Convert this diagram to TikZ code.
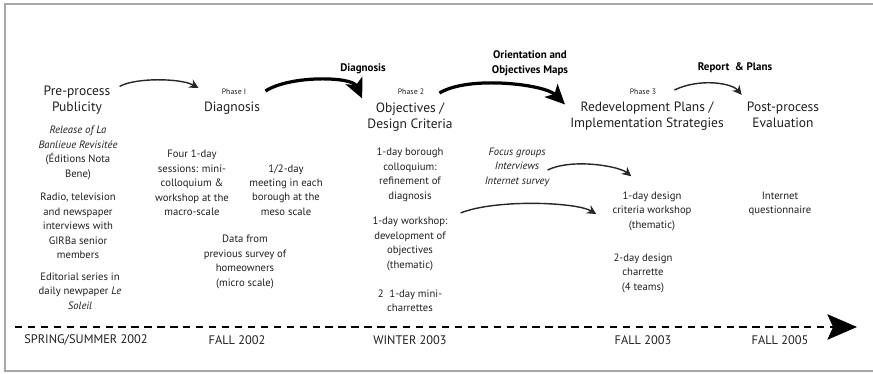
\documentclass[tikz,border=0pt]{standalone}
\usepackage{fontspec}
\setmainfont{PT Sans}
\usetikzlibrary{arrows.meta}

\begin{document}
\begin{tikzpicture}[x=0.025cm, y=-0.025cm,
            every node/.style={inner sep=0pt, align=center, text=black!88},
            txt/.style={font=\fontsize{7.6}{10.3}\selectfont},
            title/.style={font=\fontsize{9.6}{11.4}\selectfont},
            phase/.style={font=\fontsize{5.6}{6}\selectfont},
            lbl/.style={font=\fontsize{7.8}{10.6}\selectfont\bfseries, text=black},
            season/.style={font=\fontsize{8.8}{10}\selectfont},
            thinarr/.style={-{Stealth[length=6.5pt, width=6.5pt, inset=2pt]}, line width=1pt, draw=black!85},
            thickarr/.style={-{Stealth[length=14pt, width=13pt, inset=3.5pt]}, line width=2.3pt, draw=black},
            timeline/.style={-{Stealth[length=21pt, width=18pt, inset=4pt]}, line width=1.8pt, dash pattern=on 5.2pt off 4pt}
        ]
        \useasboundingbox (0,0) rectangle (873,374);
        \draw[gray!70, line width=1.2pt] (5,4) rectangle (885,371);

        % pre-process
        \node[title] (pre) at (77,100) {Pre-process\\Publicity};
        \node[txt] (rel) at (78,153) {\textit{Release of La}\\\textit{Banlieue Revisitée}\\(Éditions Nota\\Bene)};
        \node[txt] (radio) at (78,226) {Radio, television\\and newspaper\\interviews with\\GIRBa senior\\members};
        \node[txt] (edit) at (80,291) {Editorial series in\\daily newpaper \textit{Le}\\\textit{Soleil}};

        % phase 1
        \node[phase] (ph1) at (234,92) {Phase I};
        \node[title] (diag) at (232,108) {Diagnosis};
        \node[txt] (four) at (192,183) {Four 1-day\\sessions: mini-\\colloquium \&\\workshop at the\\macro-scale};
        \node[txt] (half) at (286,190) {1/2-day\\meeting in each\\borough at the\\meso scale};
        \node[txt] (data) at (245,262) {Data from\\previous survey of\\homeowners\\(micro scale)};

        % phase 2
        \node[phase] (ph2) at (411,92) {Phase 2};
        \node[title] (obj) at (410,117) {Objectives /\\Design Criteria};
        \node[txt] (bor) at (410,175) {1-day borough\\colloquium:\\refinement of\\diagnosis};
        \node[txt] (ws) at (410,244) {1-day workshop:\\development of\\objectives\\(thematic)};
        \node[txt] (mini) at (410,301) {2\ \ 1-day mini-\\charrettes};
        \node[txt, font=\fontsize{7.6}{10.3}\selectfont\itshape] (focus) at (517,167) {Focus groups\\Interviews\\Internet survey};

        % phase 3
        \node[phase] (ph3) at (643,92) {Phase 3};
        \node[title] (redev) at (647,116) {Redevelopment Plans /\\Implementation Strategies};
        \node[txt] (dcw) at (652,211) {1-day design\\criteria workshop\\(thematic)};
        \node[txt] (char) at (643,273) {2-day design\\charrette\\(4 teams)};

        % post-process
        \node[title] (post) at (783,115) {Post-process\\Evaluation};
        \node[txt] (inet) at (780,204) {Internet\\questionnaire};

        % arrow labels
        \node[lbl] (ldiag) at (363,69) {Diagnosis};
        \node[lbl] (lorient) at (530,63) {Orientation and\\Objectives Maps};
        \node[lbl] (lrep) at (735,68) {Report \ \& Plans};

        % seasons
        \node[season] (s1) at (86,340) {SPRING/SUMMER 2002};
        \node[season] (s2) at (237,340) {FALL 2002};
        \node[season] (s3) at (410,340) {WINTER 2003};
        \node[season] (s4) at (643,340) {FALL 2003};
        \node[season] (s5) at (780,340) {FALL 2005};

        \coordinate (tstart) at (15,327);
        \coordinate (tend) at (857,327);
        \draw[timeline] (tstart) -- (tend);

        \draw[thinarr] ([shift={(9,1)}]pre.north east) .. controls +(15,-9) and +(-18,-10) .. ([shift={(-23,-4)}]ph1.west);
        \draw[thickarr] ([shift={(19,-1)}]ph1.east) .. controls +(25,-16) and +(-10,-22) .. ([shift={(-5,-4)}]obj.north west);
        \draw[thickarr] ([shift={(15,1)}]ph2.east) .. controls +(30,-18) and +(-20,-20) .. ([shift={(-5,3)}]redev.north west);
        \draw[thinarr] ([shift={(18,-2)}]ph3.east) .. controls +(25,-12) and +(-10,-12) .. ([shift={(-5,-7)}]post.north west);
        \draw[thinarr] ([shift={(-2,3)}]focus.east) .. controls +(25,-12) and +(-12,-10) .. ([shift={(19,-15)}]dcw.north west);
        \draw[thinarr] ([shift={(17,11)}]bor.south east) .. controls +(35,-14) and +(-20,-12) .. ([shift={(-16,3)}]dcw.west);

        \end{tikzpicture}
\end{document}
